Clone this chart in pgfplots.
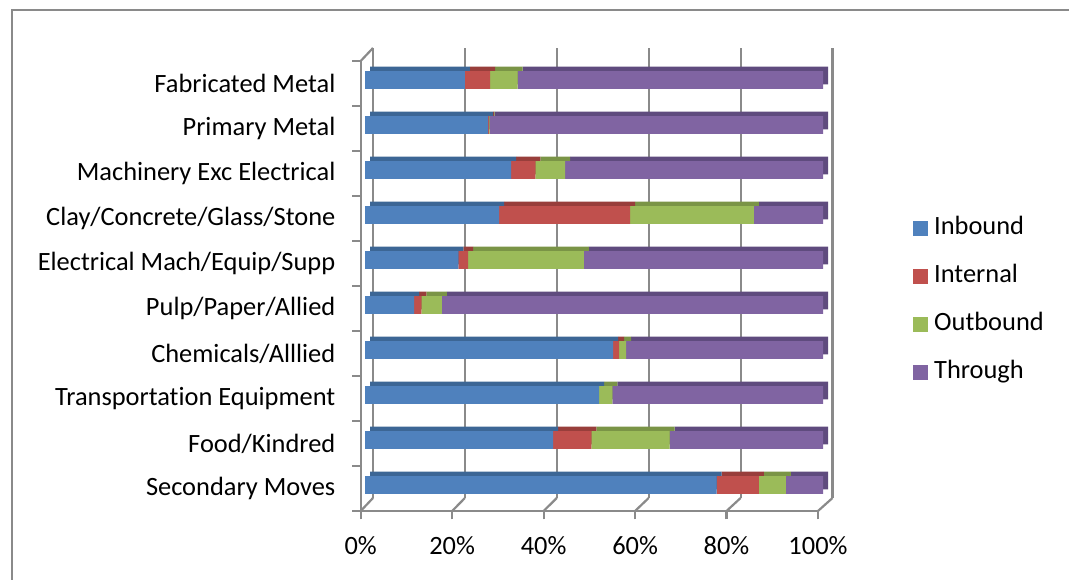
\documentclass[border=0pt]{standalone}
\usepackage{fontspec}
\setmainfont[Ligatures=CommonOff]{Carlito}
\usepackage{pgfplots}
\usepackage{pgfplotstable}
\pgfplotsset{compat=1.18}
\definecolor{cIn}{HTML}{4F81BD}
\definecolor{cInt}{HTML}{C0504D}
\definecolor{cOut}{HTML}{9BBB59}
\definecolor{cTh}{HTML}{8064A2}
\definecolor{cInD}{HTML}{3C6695}
\definecolor{cIntD}{HTML}{983E3B}
\definecolor{cOutD}{HTML}{7A9446}
\definecolor{cThD}{HTML}{5F4B7E}
\definecolor{gline}{HTML}{8A8A8A}
\newcommand\cf{\fontsize{26.4pt}{31pt}\selectfont}
\pgfplotstableread{
y in int out th
0 76.8 9.2 5.9 8.1
1 41.1 8.3 17.1 33.5
2 51.1 0.0 2.9 46.0
3 54.2 1.3 1.5 43.0
4 10.7 1.6 4.5 83.2
5 20.4 2.1 25.3 52.2
6 29.3 28.6 27.0 15.1
7 31.9 5.3 6.5 56.3
8 26.9 0.2 0.1 72.8
9 21.8 5.5 6.0 66.7
}\data
\pgfplotsset{
  plane/.style={anchor=south west, scale only axis, height=450pt,
    xmin=0, xmax=100, ymin=-0.5, ymax=9.5},
  barplane/.style={plane, width=458pt, hide axis, xbar stacked, bar width=17.6pt},
}
\begin{document}
\begin{tikzpicture}[x=1pt,y=1pt]
\useasboundingbox (0,0) rectangle (1069,580);
\fill[white] (0,0) rectangle (1069,580);
\draw[gline, line width=1.4pt] (12,-5) -- (12,570) -- (1075,570);

% back wall gridlines
\begin{axis}[plane, at={(373pt,82pt)}, width=459.5pt,
  axis line style={draw=none}, xtick={0,20,...,100}, xticklabels={},
  ytick=\empty, major tick length=0pt, xmajorgrids,
  grid style={gline, line width=2.2pt}]
\end{axis}

% floor and wall diagonals
\foreach \i in {0,...,5}
  \draw[gline, line width=2.2pt] ({360.7+91.46*\i},69) -- ({373+91.9*\i},82);
\draw[gline, line width=2.2pt] (360.7,519) -- (373,532);

% front plane: axis lines, ticks and labels
\begin{axis}[plane, at={(360.7pt,69pt)}, width=457.3pt,
  axis x line*=bottom, axis y line*=left,
  axis line style={-, gline, line width=2.2pt},
  tick align=outside, major tick length=8.5pt,
  tick style={gline, line width=2.2pt},
  xtick={0,20,...,100},
  xticklabel={\pgfmathprintnumber{\tick}\%},
  xticklabel style={font=\cf, inner sep=0pt, anchor=north, yshift=-17pt},
  /pgf/number format/assume math mode=true,
  ytick={-0.5,0.5,...,9.5}, yticklabels={},
  extra y ticks={0,1,...,9},
  extra y tick labels={Secondary Moves, Food/Kindred, Transportation Equipment,
    Chemicals/Alllied, Pulp/Paper/Allied, Electrical Mach/Equip/Supp,
    Clay/Concrete/Glass/Stone, Machinery Exc Electrical, Primary Metal,
    Fabricated Metal},
  extra y tick style={tick style={draw=none},
    yticklabel style={font=\cf, inner sep=0pt, anchor=east, xshift=-16.7pt}},
]
\end{axis}

% bar back copy (gives top and side faces)
\begin{axis}[barplane, at={(370pt,77pt)}]
\addplot[fill=cInD, draw=none] table[x=in, y=y]{\data};
\addplot[fill=cIntD, draw=none] table[x=int, y=y]{\data};
\addplot[fill=cOutD, draw=none] table[x=out, y=y]{\data};
\addplot[fill=cThD, draw=none] table[x=th, y=y]{\data};
\end{axis}

% bar front faces
\begin{axis}[barplane, at={(365pt,72.5pt)},
  legend style={at={(axis description cs:1.1965,0.459)}, anchor=west,
    draw=none, fill=none, inner sep=0pt, font=\cf, row sep=25pt,
    nodes={inner sep=0pt, text height=17pt, text depth=6pt},
    /tikz/every odd column/.append style={column sep=6pt}},
  legend cell align=left,
  legend image code/.code={\fill[#1] (0pt,-7.5pt) rectangle (15pt,7.5pt);}]
\addplot[fill=cIn, draw=none] table[x=in, y=y]{\data};
\addplot[fill=cInt, draw=none] table[x=int, y=y]{\data};
\addplot[fill=cOut, draw=none] table[x=out, y=y]{\data};
\addplot[fill=cTh, draw=none] table[x=th, y=y]{\data};
\legend{Inbound, Internal, Outbound, Through}
\end{axis}
\end{tikzpicture}
\end{document}
